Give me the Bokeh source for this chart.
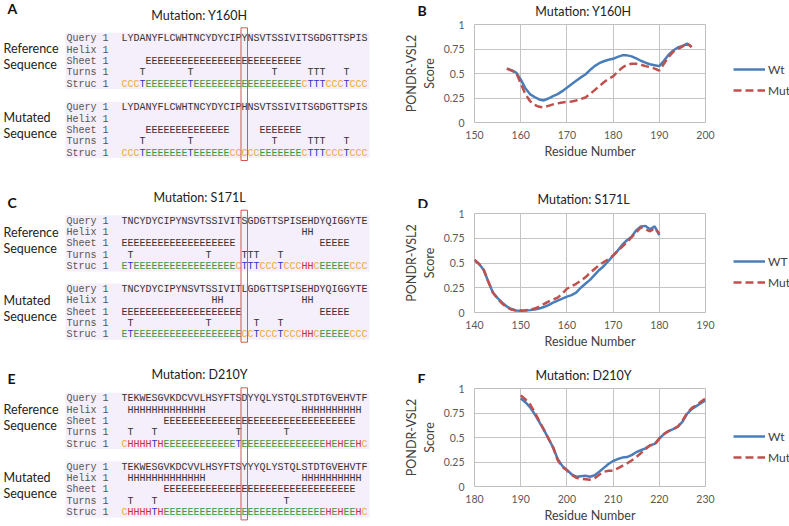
from bokeh.plotting import figure
from bokeh.layouts import row, column
from bokeh.models import Range1d, FixedTicker, Legend, LegendItem
from bokeh.core.properties import value
from bokeh.embed import file_html
from bokeh.resources import INLINE

# ---------------- data: PONDR-VSL2 curves ----------------
X_TICKS_B = [150, 160, 170, 180, 190, 200]
X_TICKS_D = [140, 150, 160, 170, 180, 190]
X_TICKS_F = [180, 190, 200, 210, 220, 230]
Y_TICKS = [0, 0.25, 0.5, 0.75, 1]
Y_TICK_LABELS = ["0", "0.25", "0.5", "0.75", "1"]

B_RES = list(range(157, 198))
B_WT = [0.55, 0.535, 0.51, 0.44, 0.35, 0.29, 0.26, 0.235, 0.225, 0.245,
        0.27, 0.29, 0.32, 0.355, 0.39, 0.425, 0.46, 0.49, 0.535, 0.575,
        0.605, 0.625, 0.64, 0.65, 0.67, 0.685, 0.685, 0.675, 0.655, 0.63,
        0.61, 0.595, 0.585, 0.575, 0.63, 0.69, 0.735, 0.765, 0.78, 0.805,
        0.77]
B_MUT = [0.55, 0.53, 0.51, 0.40, 0.29, 0.22, 0.18, 0.16, 0.155, 0.17,
         0.185, 0.195, 0.205, 0.21, 0.215, 0.225, 0.24, 0.255, 0.29, 0.33,
         0.37, 0.41, 0.445, 0.47, 0.52, 0.56, 0.59, 0.60, 0.60, 0.59,
         0.575, 0.565, 0.55, 0.53, 0.60, 0.67, 0.72, 0.75, 0.775, 0.81,
         0.77]

D_RES = list(range(140, 181))
D_WT = [0.53, 0.49, 0.43, 0.31, 0.20, 0.145, 0.10, 0.06, 0.035, 0.02,
        0.017, 0.02, 0.024, 0.03, 0.04, 0.055, 0.075, 0.10, 0.12, 0.14,
        0.16, 0.175, 0.20, 0.25, 0.29, 0.33, 0.38, 0.43, 0.47, 0.52,
        0.575, 0.625, 0.685, 0.73, 0.765, 0.83, 0.87, 0.875, 0.84, 0.87,
        0.78]
D_MUT = [0.53, 0.49, 0.43, 0.31, 0.20, 0.14, 0.09, 0.05, 0.03, 0.02,
         0.02, 0.022, 0.03, 0.04, 0.06, 0.085, 0.11, 0.13, 0.15, 0.19,
         0.24, 0.265, 0.29, 0.32, 0.355, 0.40, 0.44, 0.48, 0.51, 0.54,
         0.575, 0.62, 0.665, 0.71, 0.76, 0.81, 0.86, 0.84, 0.82, 0.85,
         0.80]

F_RES = list(range(190, 231))
F_WT = [0.90, 0.86, 0.81, 0.74, 0.66, 0.58, 0.49, 0.40, 0.28, 0.21,
        0.17, 0.125, 0.10, 0.105, 0.11, 0.10, 0.115, 0.15, 0.19, 0.23,
        0.26, 0.28, 0.295, 0.30, 0.32, 0.35, 0.37, 0.39, 0.42, 0.435,
        0.49, 0.535, 0.565, 0.585, 0.61, 0.66, 0.74, 0.79, 0.82, 0.85,
        0.88]
F_MUT = [0.93, 0.89, 0.84, 0.76, 0.67, 0.58, 0.49, 0.40, 0.27, 0.20,
         0.165, 0.12, 0.09, 0.08, 0.075, 0.07, 0.085, 0.12, 0.15, 0.16,
         0.16, 0.185, 0.21, 0.235, 0.265, 0.30, 0.34, 0.38, 0.42, 0.425,
         0.49, 0.535, 0.565, 0.585, 0.61, 0.67, 0.75, 0.80, 0.83, 0.865,
         0.90]

# ---------------- data: secondary-structure alignments ----------------
ROW_NAMES = ["Query 1", "Helix 1", "Sheet 1", "Turns 1", "Struc 1"]

A_REF = ["LYDANYFLCWHTNCYDYCIPYNSVTSSIVITSGDGTTSPIS",
         "",
         " " * 4 + "E" * 26,
         "   T" + " " * 7 + "T" + " " * 13 + "T" + " " * 5 + "TTT" + "   " + "T",
         "CCCT" + "E" * 7 + "T" + "E" * 18 + "C" + "TTT" + "CCC" + "T" + "CCC"]
A_MUT = ["LYDANYFLCWHTNCYDYCIPHNSVTSSIVITSGDGTTSPIS",
         "",
         " " * 4 + "E" * 14 + " " * 5 + "E" * 7,
         "   T" + " " * 7 + "T" + " " * 13 + "T" + " " * 5 + "TTT" + "   " + "T",
         "CCCT" + "E" * 7 + "T" + "E" * 6 + "C" * 5 + "E" * 7 + "C" + "TTT" + "CCC" + "T" + "CCC"]

C_REF = ["TNCYDYCIPYNSVTSSIVITSGDGTTSPISEHDYQIGGYTE",
         " " * 30 + "HH",
         "E" * 19 + " " * 14 + "E" * 5,
         " T" + " " * 12 + "T" + " " * 5 + "TTT" + " " * 3 + "T",
         "ET" + "E" * 17 + "C" + "TTT" + "CCC" + "T" + "CCC" + "HH" + "C" + "E" * 5 + "CCC"]
C_MUT = ["TNCYDYCIPYNSVTSSIVITLGDGTTSPISEHDYQIGGYTE",
         " " * 15 + "HH" + " " * 13 + "HH",
         "E" * 20 + " " * 13 + "E" * 5,
         " T" + " " * 12 + "T" + " " * 7 + "T" + " " * 3 + "T",
         "ET" + "E" * 18 + "CC" + "T" + "CCC" + "T" + "CCC" + "HH" + "C" + "E" * 5 + "CCC"]

E_REF = ["TEKWESGVKDCVVLHSYFTSDYYQLYSTQLSTDTGVEHVTF",
         " " + "H" * 13 + " " * 16 + "H" * 10,
         " " * 7 + "E" * 32,
         " T" + " " * 3 + "T" + " " * 13 + "T" + " " * 7 + "T",
         "C" + "HHHH" + "T" + "H" + "E" * 12 + "T" + "E" * 14 + "HEHEEHC"]
E_MUT = ["TEKWESGVKDCVVLHSYFTSYYYQLYSTQLSTDTGVEHVTF",
         " " + "H" * 13 + " " * 16 + "H" * 10,
         " " * 7 + "E" * 32,
         " T" + " " * 3 + "T" + " " * 21 + "T",
         "C" + "HHHH" + "T" + "H" + "E" * 27 + "HEHEEHC"]

PANEL_LETTERS = ["A", "C", "E"]
PANEL_TITLES = ["Mutation: Y160H", "Mutation: S171L", "Mutation: D210Y"]
MUT_COLUMN = [20, 20, 20]

STRUC_COLORS = {"C": "#f2a93b", "T": "#3434c4", "E": "#3a9848", "H": "#d92640"}

SANS = "Lato"
MONO = "Liberation Mono"


def blank(width, height):
    f = figure(width=width, height=height, output_backend="svg", toolbar_location=None,
               x_range=Range1d(0, width), y_range=Range1d(height, 0),
               x_axis_location=None, y_axis_location=None,
               min_border=0, outline_line_color=None)
    f.xgrid.visible = False
    f.ygrid.visible = False
    return f


# ---------------- left: alignment panels ----------------
left = blank(400, 526)

panel_geom = [  # (letter_y, title_y, ref_first_row_y, mut_first_row_y, ref_label_y, mut_label_y)
    (8, 15, 38.3, 107.3, 48, 117),
    (202, 197, 220.7, 289, 232, 299.5),
    (378, 373.5, 398.3, 466.7, 408.5, 477),
]
ROW_STEP = 11.3
COL0 = 124
COL_W = 6

xs, ys, txt, cols = [], [], [], []
lx, ly, ltxt = [], [], []
bg_l, bg_r, bg_t, bg_b = [], [], [], []
box_l, box_r, box_t, box_b = [], [], [], []

for pi, (ref_rows, mut_rows) in enumerate([(A_REF, A_MUT), (C_REF, C_MUT), (E_REF, E_MUT)]):
    g = panel_geom[pi]
    for bi, rows in enumerate([ref_rows, mut_rows]):
        y0 = g[2] if bi == 0 else g[3]
        bg_l.append(65); bg_r.append(369); bg_t.append(y0 - 6); bg_b.append(y0 + 4 * ROW_STEP + 5)
        for ri, s in enumerate(rows):
            y = y0 + ri * ROW_STEP
            lx.append(66); ly.append(y); ltxt.append(ROW_NAMES[ri])
            for c, ch in enumerate(s):
                if ch == " ":
                    continue
                xs.append(COL0 + COL_W * c)
                ys.append(y)
                txt.append(ch)
                cols.append(STRUC_COLORS[ch] if ri == 4 else "#333333")
    mc = MUT_COLUMN[pi]
    box_l.append(COL0 + COL_W * mc - 3.5); box_r.append(COL0 + COL_W * mc + 3)
    box_t.append(g[2] - 11); box_b.append(g[3] + 4 * ROW_STEP + 7.5)

left.quad(left=bg_l, right=bg_r, top=bg_t, bottom=bg_b, fill_color="#f4effa", line_color=None)
left.text(x=lx, y=ly, text=ltxt, text_font=value(MONO), text_font_size="10px",
          text_color="#555555", text_baseline="middle", text_align="left")
left.text(x=xs, y=ys, text=txt, text_color=cols, text_font=value(MONO), text_font_size="10px",
          text_baseline="middle", text_align="center")
left.quad(left=box_l, right=box_r, top=box_t, bottom=box_b, fill_color=None,
          line_color="#d9534f", line_width=1)

left.text(x=[7, 7, 7], y=[g[0] for g in panel_geom], text=PANEL_LETTERS,
          text_font=value(SANS), text_font_size="14px", text_font_style="bold",
          text_baseline="middle", text_align="left", text_color="#111111")
left.text(x=[199, 199, 199], y=[g[1] for g in panel_geom], text=PANEL_TITLES,
          text_font=value(SANS), text_font_size="12.5px", text_baseline="middle",
          text_align="center", text_color="#222222")
side_y, side_t = [], []
for g in panel_geom:
    side_y += [g[4], g[4] + 16, g[5], g[5] + 16]
    side_t += ["Reference", "Sequence", "Mutated", "Sequence"]
left.text(x=[3] * len(side_y), y=side_y, text=side_t, text_font=value(SANS),
          text_font_size="12.5px", text_baseline="middle", text_align="left",
          text_color="#222222")


# ---------------- right: PONDR-VSL2 charts ----------------
RW = 389          # total width of the right column
BL = 61           # chart left border
FW = 244          # chart frame width
BRC = 12          # chart right border
CW = BL + FW + BRC
LW = RW - CW      # legend strip width
TOP = 5           # chart top border

WT_COLOR = "#4a7ebb"
MUT_COLOR = "#c0504d"
NAN = float("nan")


def header(letter, title, height, letter_y, title_y):
    h = blank(RW, height)
    h.text(x=[17], y=[letter_y], text=[letter], text_font=value(SANS),
           text_font_size="14px", text_font_style="bold", text_baseline="middle",
           text_align="left", text_color="#111111")
    h.text(x=[BL + FW / 2], y=[title_y], text=[title], text_font=value(SANS),
           text_font_size="12.5px", text_baseline="middle", text_align="center",
           text_color="#222222")
    return h


def chart(res, wt, mut, wt_label, xticks, frame_h, bb, legend_y):
    height = TOP + frame_h + bb
    p = figure(width=CW, height=height, output_backend="svg", toolbar_location=None,
               x_range=Range1d(xticks[0], xticks[-1]), y_range=Range1d(0, 1),
               min_border_left=BL, min_border_right=BRC, min_border_top=TOP,
               min_border_bottom=bb)
    p.outline_line_color = "#bfbfbf"
    for ax in (p.xaxis[0], p.yaxis[0]):
        ax.axis_line_color = None
        ax.major_tick_line_color = None
        ax.minor_tick_line_color = None
        ax.major_tick_out = 0
        ax.major_tick_in = 0
        ax.major_label_text_font = SANS
        ax.major_label_text_font_size = "10.5px"
        ax.major_label_text_color = "#595959"
        ax.axis_label_text_font = SANS
        ax.axis_label_text_font_size = "12.5px"
        ax.axis_label_text_font_style = "normal"
        ax.axis_label_text_color = "#404040"
    p.xaxis.ticker = FixedTicker(ticks=xticks)
    p.yaxis.ticker = FixedTicker(ticks=Y_TICKS)
    p.yaxis.major_label_overrides = {t: l for t, l in zip(Y_TICKS, Y_TICK_LABELS)}
    p.xaxis.axis_label = "Residue Number"
    p.yaxis.axis_label = "PONDR-VSL2\nScore"
    p.xaxis.major_label_standoff = 8
    p.xaxis.axis_label_standoff = 2
    p.yaxis.major_label_standoff = 10
    p.yaxis.axis_label_standoff = 4
    p.xgrid.grid_line_color = "#c4c4c4"
    p.ygrid.grid_line_color = "#c4c4c4"
    p.line(res, wt, line_color=WT_COLOR, line_width=2.5)
    p.line(res, mut, line_color=MUT_COLOR, line_width=2.5, line_dash="8 4")

    # legend strip to the right of the chart
    lf = blank(LW, height)
    k1 = lf.line(x=[NAN, NAN], y=[NAN, NAN], line_color=WT_COLOR, line_width=2.5)
    k2 = lf.line(x=[NAN, NAN], y=[NAN, NAN], line_color=MUT_COLOR, line_width=2.5,
                 line_dash="8 4")
    leg = Legend(items=[LegendItem(label=wt_label, renderers=[k1]),
                        LegendItem(label="Mut", renderers=[k2])],
                 location=(16, legend_y), border_line_color=None,
                 background_fill_alpha=0, padding=0, margin=0, spacing=1,
                 label_height=20, glyph_height=20, glyph_width=32, label_standoff=3,
                 label_text_font=SANS, label_text_font_size="12px",
                 label_text_color="#404040")
    lf.add_layout(leg)
    return row(p, lf, spacing=0)


hB = header("B", "Mutation: Y160H", 19, 10, 11)
cB = chart(B_RES, B_WT, B_MUT, "Wt", X_TICKS_B, 98, 43, 22)
hD = header("D", "Mutation: S171L", 43, 37.5, 34)
cD = chart(D_RES, D_WT, D_MUT, "WT", X_TICKS_D, 99, 40, 20)
hF = header("F", "Mutation: D210Y", 31, 25.5, 23)
cF = chart(F_RES, F_WT, F_MUT, "Wt", X_TICKS_F, 98, 40, 19)

layout = row(left, column(hB, cB, hD, cD, hF, cF, spacing=0), spacing=0)
open("out.html", "w").write(file_html(layout, INLINE))
